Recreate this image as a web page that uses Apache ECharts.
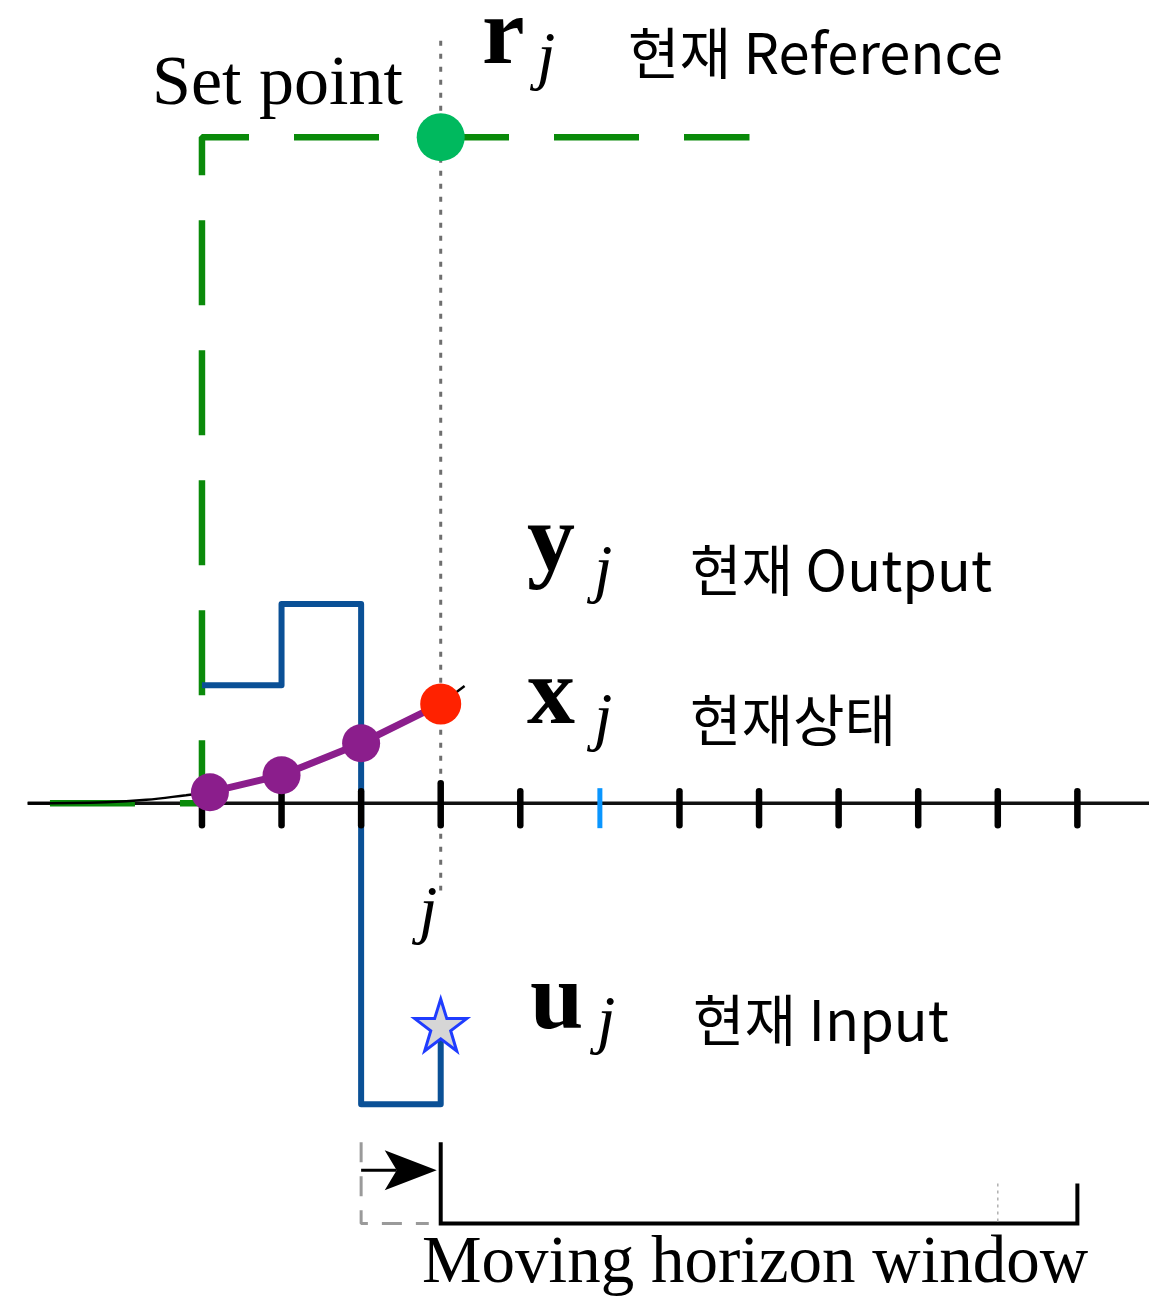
<!DOCTYPE html>
<html>
<head>
<meta charset="utf-8">
<title>Moving horizon window</title>
<script src="https://cdn.jsdelivr.net/npm/echarts@6/dist/echarts.min.js"></script>
<style>
  html, body { margin: 0; padding: 0; background: #fff; }
  #chart { width: 1149px; height: 1299px; }
</style>
</head>
<body>
<div id="chart"></div>
<script>
// time steps (j = 0), y in units of the set point
const tickSteps = [-3, -2, -1, 0, 1, 2, 3, 4, 5, 6, 7, 8]
const highlightStep = 2

const setpointX = [-4.91, -3, -3, 3.88]
const setpointY = [0, 0, 1, 1]

const stateCurveX = [-5.19, -4.2, -3.7, -3.2, -2.9]
const stateCurveY = [0, 0.0015, 0.005, 0.012, 0.0165]

const stateX = [-2.9, -2, -1, 0]
const stateY = [0.0165, 0.042, 0.09, 0.149]
const stateTailX = [0, 0.3]
const stateTailY = [0.149, 0.176]

const inputX = [-3, -2, -2, -1, -1, 0, 0]
const inputY = [0.177, 0.177, 0.299, 0.299, -0.452, -0.452, -0.333]

const referencePoint = [0, 1]
const currentInput = [0, -0.333]
const nowLineY = [1.145, -0.131]
const axisX = [-5.19, 8.9]

// moving horizon window bracket
const windowX = [0, 0, 8, 8]
const windowY = [-0.509, -0.631, -0.631, -0.571]
const prevWindowX = [-1, -1, -0.15]
const prevWindowY = [-0.509, -0.631, -0.631]
const horizonMarkX = 7
const horizonMarkY = [-0.571, -0.631]
const shiftArrowX = [-1, 0]
const shiftArrowY = -0.551

const zip = (xs, ys) => xs.map((x, i) => [x, ys[i]])

const STAR = 'path://M50,2 L61,36 L97,36 L68,57 L79,92 L50,71 L21,92 L32,57 L3,36 L39,36 Z'
const SERIF = '"Liberation Serif", "DejaVu Serif", serif'
const KR = '"Noto Sans CJK KR", "Noto Sans", sans-serif'

const chart = echarts.init(document.getElementById('chart'))

function lineSeries(data, style, z, extra) {
  return Object.assign({
    type: 'line',
    data,
    symbol: 'none',
    silent: true,
    z,
    lineStyle: style,
  }, extra || {})
}

function label(x, y, text, font) {
  return { type: 'text', x, y, silent: true, style: { text, font, fill: '#000', align: 'left', verticalAlign: 'middle' } }
}

function mathText(x, y, main, subX, subY) {
  return [
    label(x, y, main, 'bold 96px ' + SERIF),
    label(subX, subY, 'j', 'italic 66px ' + SERIF),
  ]
}

const option = {
  animation: false,
  backgroundColor: '#fff',
  grid: { left: 3, right: 0, top: 4, bottom: 3 },
  xAxis: { type: 'value', min: -5.5, max: 8.9, show: false },
  yAxis: { type: 'value', min: -0.74, max: 1.2, show: false },
  series: [
    lineSeries(zip(axisX, [0, 0]), { color: '#111', width: 3.5 }, 1),
    lineSeries(zip([0, 0], nowLineY), { color: '#6e6e6e', width: 3, type: [5, 8] }, 1),
    lineSeries(zip(setpointX, setpointY), { color: '#0a8a0a', width: 6.5, type: [85, 45], cap: 'butt' }, 2),
    lineSeries(zip(stateCurveX, stateCurveY), { color: '#000', width: 2.5 }, 3, { smooth: 0.4 }),
    lineSeries(zip(inputX, inputY), { color: '#0a5096', width: 6, join: 'round' }, 4),
    {
      type: 'custom',
      silent: true,
      z: 5,
      data: tickSteps.map(k => [k, 0]),
      encode: { x: 0, y: 1 },
      renderItem(params, api) {
        const k = api.value(0)
        const p = api.coord([k, 0])
        const hi = k === highlightStep
        const up = k === 0 ? 20 : 12
        return {
          type: 'line',
          shape: { x1: p[0], y1: p[1] - (hi ? 15 : up), x2: p[0], y2: p[1] + (hi ? 25 : 22) },
          style: { stroke: hi ? '#0a96ff' : '#000', lineWidth: hi ? 5 : 6.5, lineCap: hi ? 'butt' : 'round' },
        }
      },
    },
    lineSeries(zip(stateTailX, stateTailY), { color: '#000', width: 2.5 }, 6),
    {
      type: 'line',
      data: zip(stateX, stateY),
      silent: true,
      z: 7,
      symbol: 'circle',
      symbolSize: 38,
      showAllSymbol: true,
      itemStyle: { color: '#8b1e8c', opacity: 1 },
      lineStyle: { color: '#8b1e8c', width: 7 },
    },
    {
      type: 'scatter',
      data: [zip(stateX, stateY)[stateX.length - 1]],
      silent: true,
      z: 8,
      symbolSize: 41,
      itemStyle: { color: '#ff2200', opacity: 1 },
    },
    {
      type: 'scatter',
      data: [referencePoint],
      silent: true,
      z: 8,
      symbolSize: 48,
      itemStyle: { color: '#00b95e', opacity: 1 },
    },
    {
      type: 'scatter',
      data: [currentInput],
      silent: true,
      z: 8,
      symbol: STAR,
      symbolSize: 52,
      itemStyle: { color: '#d6d6d6', borderColor: '#1f3cff', borderWidth: 3, opacity: 1 },
    },
    lineSeries(zip(windowX, windowY), { color: '#000', width: 4, join: 'miter' }, 3),
    lineSeries(zip(prevWindowX, prevWindowY), { color: '#9a9a9a', width: 3, type: [20, 14] }, 3),
    lineSeries(zip([horizonMarkX, horizonMarkX], horizonMarkY), { color: '#b0b0b0', width: 1.5, type: [3, 4] }, 3),
    {
      type: 'custom',
      silent: true,
      z: 6,
      data: [[shiftArrowX[0], shiftArrowY]],
      encode: { x: 0, y: 1 },
      renderItem(params, api) {
        const a = api.coord([shiftArrowX[0], shiftArrowY])
        const b = api.coord([shiftArrowX[1], shiftArrowY])
        const tx = b[0] - 4, ty = b[1]
        return {
          type: 'group',
          children: [
            { type: 'line', shape: { x1: a[0], y1: ty, x2: tx - 40, y2: ty }, style: { stroke: '#000', lineWidth: 3 } },
            {
              type: 'polygon',
              shape: { points: [[tx, ty], [tx - 52, ty - 20], [tx - 40, ty], [tx - 52, ty + 20]] },
              style: { fill: '#000' },
            },
          ],
        }
      },
    },
  ],
  graphic: [
    label(152, 86, 'Set point', '70px ' + SERIF),
    ...mathText(482, 38, 'r', 537, 60),
    label(628, 53, '현재 Reference', '56px ' + KR),
    ...mathText(527, 545, 'y', 594, 573),
    label(690, 570, '현재 Output', '56px ' + KR),
    ...mathText(527, 698, 'x', 594, 721),
    label(690, 720, '현재상태', '56px ' + KR),
    label(419, 914, 'j', 'italic 66px ' + SERIF),
    ...mathText(530, 1003, 'u', 597, 1024),
    label(693, 1020, '현재 Input', '56px ' + KR),
    label(422, 1264, 'Moving horizon window', '67px ' + SERIF),
  ],
}

chart.setOption(option)
</script>
</body>
</html>
